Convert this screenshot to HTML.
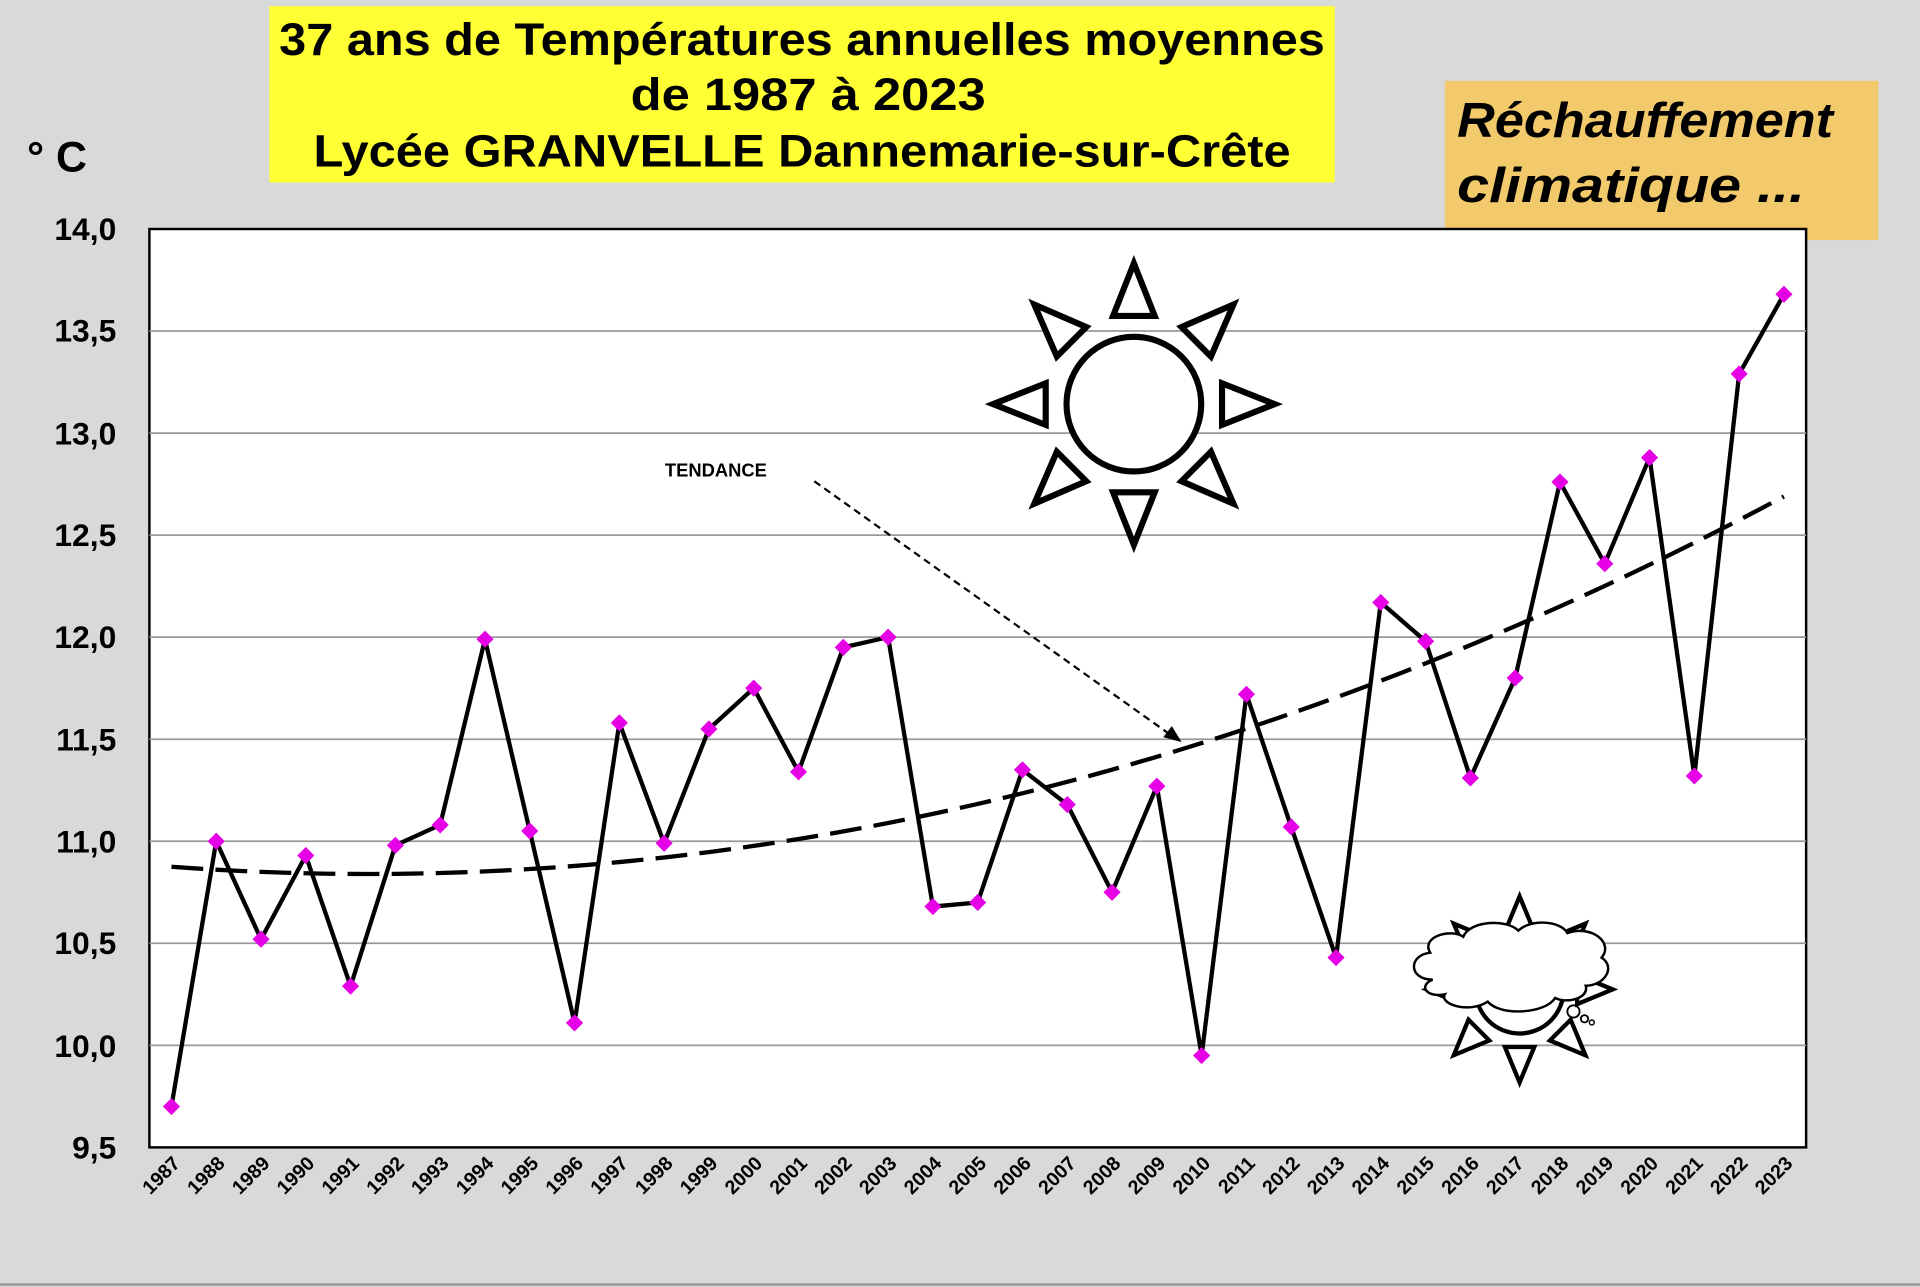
<!DOCTYPE html>
<html><head><meta charset="utf-8"><style>
html,body{margin:0;padding:0;background:#d9d9d9}
svg{display:block}
text{font-family:"Liberation Sans",sans-serif}
</style></head><body>
<svg id="s" width="1920" height="1287" viewBox="0 0 1568 1051" xmlns="http://www.w3.org/2000/svg">
<rect x="0" y="0" width="1568" height="1051" fill="#d9d9d9"/>
<line x1="0" y1="1049" x2="1568" y2="1049" stroke="#999" stroke-width="2"/>
<rect x="220" y="5" width="870" height="144" fill="#ffff33"/>
<text x="228" y="45" font-size="37" font-weight="bold" textLength="854" lengthAdjust="spacingAndGlyphs">37 ans de Températures annuelles moyennes</text>
<text x="515" y="90" font-size="37" font-weight="bold" textLength="290" lengthAdjust="spacingAndGlyphs">de 1987  à 2023</text>
<text x="256" y="136" font-size="37" font-weight="bold" textLength="798" lengthAdjust="spacingAndGlyphs">Lycée GRANVELLE Dannemarie-sur-Crête</text>
<text x="22" y="140" font-size="35" font-weight="bold">° C</text>
<rect x="1180" y="66" width="354" height="130" fill="#f2c96b"/>
<text x="1190" y="112" font-size="40" font-weight="bold" font-style="italic" textLength="307" lengthAdjust="spacingAndGlyphs">Réchauffement</text>
<text x="1190" y="165" font-size="40" font-weight="bold" font-style="italic" textLength="284" lengthAdjust="spacingAndGlyphs">climatique  ...</text>
<rect x="122" y="187" width="1353" height="750" fill="#fff" stroke="#000" stroke-width="2"/>
<g stroke="#999" stroke-width="1.5">
<line x1="122" x2="1475" y1="270.3" y2="270.3"/><line x1="122" x2="1475" y1="353.7" y2="353.7"/>
<line x1="122" x2="1475" y1="437" y2="437"/><line x1="122" x2="1475" y1="520.3" y2="520.3"/>
<line x1="122" x2="1475" y1="603.7" y2="603.7"/><line x1="122" x2="1475" y1="687" y2="687"/>
<line x1="122" x2="1475" y1="770.3" y2="770.3"/><line x1="122" x2="1475" y1="853.7" y2="853.7"/>
</g>
<g font-size="26" font-weight="bold" text-anchor="end">
<text x="95" y="196">14,0</text><text x="95" y="279">13,5</text><text x="95" y="363">13,0</text>
<text x="95" y="446">12,5</text><text x="95" y="529">12,0</text><text x="95" y="613">11,5</text>
<text x="95" y="696">11,0</text><text x="95" y="779">10,5</text><text x="95" y="863">10,0</text>
<text x="95" y="946">9,5</text>
</g>
<g id="yrs" font-size="16" font-weight="bold" text-anchor="end"></g>
<text x="543" y="389" font-size="15" font-weight="bold">TENDANCE</text>
<line x1="665" y1="393" x2="960" y2="603" stroke="#000" stroke-width="1.8" stroke-dasharray="6,4"/>
<polygon points="965,606 950,602 957,593" fill="#000"/>
<g id="dyn"></g>
</svg>
<script>
var NS="http://www.w3.org/2000/svg";
function el(t,a,p){var e=document.createElementNS(NS,t);for(var k in a)e.setAttribute(k,a[k]);(p||document.getElementById("dyn")).appendChild(e);return e;}
var v=[9.70,11.0,10.52,10.93,10.29,10.98,11.08,11.99,11.05,10.11,11.58,10.99,11.55,11.75,11.34,11.95,12.00,10.68,10.70,11.35,11.18,10.75,11.27,9.95,11.72,11.07,10.43,12.17,11.98,11.31,11.80,12.76,12.36,12.88,11.32,13.29,13.68];
function X(i){return 140+i*36.58}function Y(t){return 937-(t-9.5)*166.67}
var yrs=document.getElementById("yrs");
for(var i=0;i<37;i++){var x=X(i)+8,y=951;var t=el("text",{x:x,y:y,transform:"rotate(-45 "+x+" "+y+")"},yrs);t.textContent=1987+i;}
var tp=[];for(var t=0;t<=36;t+=0.5){tp.push(X(t)+","+Y(0.00185*t*t-0.0162*t+10.875));}
el("polyline",{points:tp.join(" "),fill:"none",stroke:"#000","stroke-width":3.5,"stroke-dasharray":"26,10"});
var lp=v.map(function(a,i){return X(i)+","+Y(a)});
el("polyline",{points:lp.join(" "),fill:"none",stroke:"#000","stroke-width":3.5,"stroke-linejoin":"round"});
v.forEach(function(a,i){var x=X(i),y=Y(a);el("polygon",{points:(x)+","+(y-7)+" "+(x+7)+","+y+" "+x+","+(y+7)+" "+(x-7)+","+y,fill:"#e600e6"});});
function sun(cx,cy,r,tipR,baseR,hw,sw,g){
 el("circle",{cx:cx,cy:cy,r:r,fill:"#fff",stroke:"#000","stroke-width":sw},g);
 for(var k=0;k<8;k++){var a=k*Math.PI/4-Math.PI/2,c=Math.cos(a),s=Math.sin(a);
  var tx=cx+tipR*c,ty=cy+tipR*s,bx=cx+baseR*c,by=cy+baseR*s;
  el("polygon",{points:tx+","+ty+" "+(bx-hw*s)+","+(by+hw*c)+" "+(bx+hw*s)+","+(by-hw*c),fill:"#fff",stroke:"#000","stroke-width":sw,"stroke-linejoin":"miter"},g);}
}
sun(926,330,55,115,72,17,5);
sun(1241,808,36,76,47,12,3.5);
el("path",{d:"M1170,800 C1150,800 1150,780 1168,778 C1160,765 1185,758 1195,765 C1200,752 1230,750 1240,760 C1250,750 1275,752 1280,762 C1300,755 1318,770 1308,782 C1320,790 1310,805 1295,805 C1298,815 1280,820 1270,815 C1262,828 1225,830 1215,818 C1200,828 1175,820 1180,812 C1165,815 1158,805 1170,800 Z",fill:"#fff",stroke:"#000","stroke-width":2});
el("circle",{cx:1285,cy:826,r:5,fill:"none",stroke:"#000","stroke-width":1.5});
el("circle",{cx:1294,cy:832,r:3,fill:"none",stroke:"#000","stroke-width":1.5});
el("circle",{cx:1300,cy:835,r:2,fill:"none",stroke:"#000","stroke-width":1.2});
</script>
</body></html>
